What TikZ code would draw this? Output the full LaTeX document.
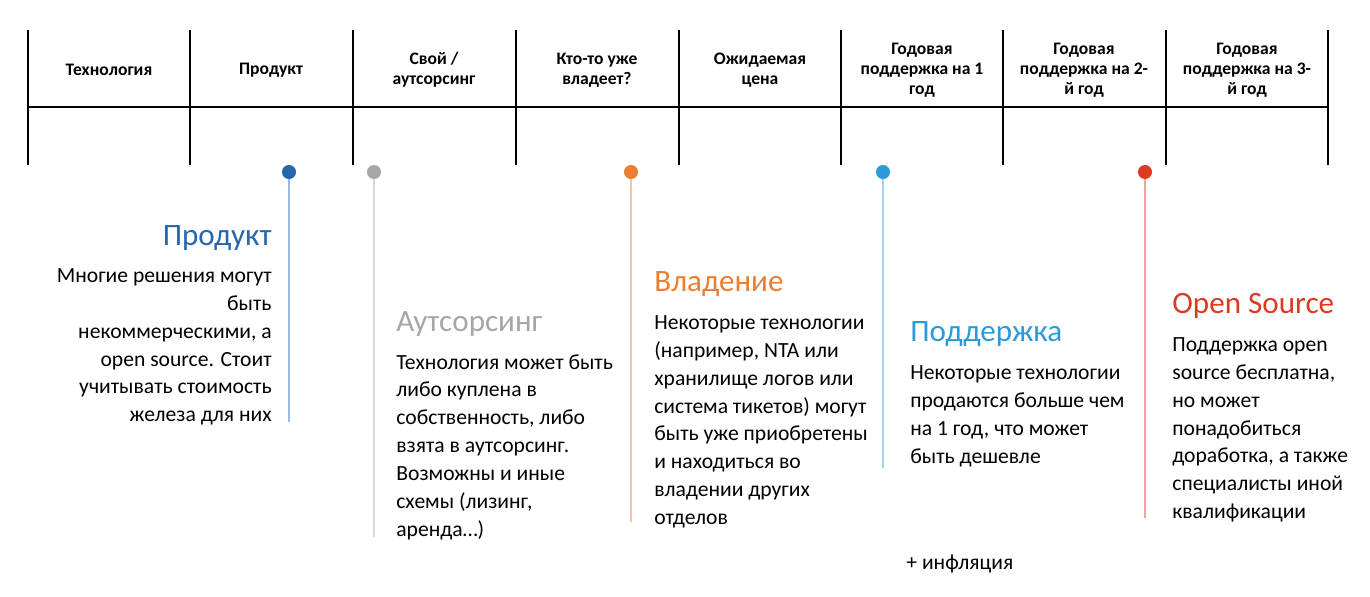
\documentclass[tikz,border=0pt]{standalone}
\usepackage{fontspec}
\setmainfont{Carlito}
\usetikzlibrary{positioning}
\definecolor{cprod}{HTML}{2566AE}
\definecolor{cout}{HTML}{A6A6A6}
\definecolor{cown}{HTML}{ED7D31}
\definecolor{csup}{HTML}{2A9AD8}
\definecolor{cos}{HTML}{DD3A1F}
\tikzset{
  head/.style={font=\fontsize{10}{11.3}\selectfont\bfseries, align=center},
  ttl/.style={font=\fontsize{17.7}{20}\selectfont, anchor=base west, inner sep=0},
  body/.style={font=\fontsize{12.3}{15.9}\selectfont, align=left, anchor=north west, inner sep=0},
  dot/.style={circle, fill=#1, inner sep=0, minimum size=8pt},
  stem/.style={#1!45, line width=0.6pt}
}
\begin{document}
\begin{tikzpicture}[x=0.02cm,y=-0.02cm]
\useasboundingbox (0,0) rectangle (1370,597);
% table
\draw[line width=0.8pt] (28,107) -- (1328,107);
\foreach \x in {28,190,353,516,679,841,1003,1166,1328}
  \draw[line width=0.8pt] (\x,30) -- (\x,165);
\node[head] (h1) at (109,70) {Технология};
\node[head] (h2) at (271,70) {Продукт};
\node[head] (h3) at (434,70) {Свой /\\аутсорсинг};
\node[head] (h4) at (597,70) {Кто-то уже\\владеет?};
\node[head] (h5) at (760,70) {Ожидаемая\\цена};
\node[head] (h6) at (922,70) {Годовая\\поддержка на 1\\год};
\node[head] (h7) at (1084,70) {Годовая\\поддержка на 2-\\й год};
\node[head] (h8) at (1247,70) {Годовая\\поддержка на 3-\\й год};
% markers
\foreach \n/\x/\e/\c in {d1/289/422/cprod, d2/374/537/cout, d3/631/522/cown, d4/883/468/csup, d5/1145/518/cos}{
  \coordinate (\n e) at (\x,\e);
  \node[dot=\c] (\n) at (\x,172) {};
  \draw[stem=\c] (\n) -- (\n e);
}
% texts
\node[ttl, text=cprod, anchor=base east] (t1) at (272,246) {Продукт};
\node[font=\fontsize{12.3}{15.9}\selectfont, align=right, anchor=north east, inner sep=0] (b1) at (272,268)
  {Многие решения могут\\быть\\некоммерческими, а\\open source. Стоит\\учитывать стоимость\\железа для них};
\node[ttl, text=cout] (t2) at (396,332) {Аутсорсинг};
\node[body] (b2) at (396,354) {Технология может быть\\либо куплена в\\собственность, либо\\взята в аутсорсинг.\\Возможны и иные\\схемы (лизинг,\\аренда…)};
\node[ttl, text=cown] (t3) at (654,292) {Владение};
\node[body] (b3) at (654,315) {Некоторые технологии\\(например, NTA или\\хранилище логов или\\система тикетов) могут\\быть уже приобретены\\и находиться во\\владении других\\отделов};
\node[ttl, text=csup] (t4) at (910,342) {Поддержка};
\node[body] (b4) at (910,365) {Некоторые технологии\\продаются больше чем\\на 1 год, что может\\быть дешевле};
\node[ttl, text=cos] (t5) at (1172,314) {Open Source};
\node[body] (b5) at (1172,337) {Поддержка open\\source бесплатна,\\но может\\понадобиться\\доработка, а также\\специалисты иной\\квалификации};
\node[body] (inf) at (906,555) {+ инфляция};
\end{tikzpicture}
\end{document}
